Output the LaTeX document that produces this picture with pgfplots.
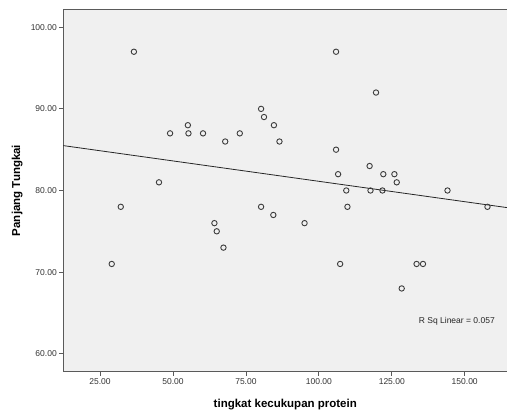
\documentclass[border=0pt]{standalone}
\usepackage{pgfplots}
\pgfplotsset{compat=1.18}
\usepackage{fontspec}
\setmainfont{Liberation Sans}
\definecolor{bgc}{HTML}{F0F0F0}
\definecolor{axc}{HTML}{5A5A5A}
\definecolor{mkc}{HTML}{3C3C3C}
\begin{document}
\begin{tikzpicture}[x=1pt,y=1pt]
\useasboundingbox (0,0) rectangle (507,414);
\begin{axis}[
  at={(63.3pt,42.3pt)}, anchor=south west,
  scale only axis, width=444pt, height=362.4pt,
  xmin=12.4, xmax=164.6, ymin=57.8, ymax=102.2,
  axis background/.style={fill=bgc},
  axis line style={axc, line width=1pt},
  xtick={25,50,75,100,125,150},
  ytick={60,70,80,90,100},
  tick align=outside, tick pos=left,
  major tick length=4pt,
  tick style={axc, line width=0.8pt},
  /pgf/number format/assume math mode=true,
  xticklabel={\pgfmathprintnumber[fixed,fixed zerofill,precision=2]{\tick}},
  yticklabel={\pgfmathprintnumber[fixed,fixed zerofill,precision=2]{\tick}},
  ticklabel style={font=\fontsize{8.5}{10}\selectfont, text=black!80},
  xticklabel style={yshift=1pt},
  yticklabel style={xshift=1pt},
  xlabel={\textbf{tingkat kecukupan protein}},
  ylabel={\textbf{Panjang Tungkai}},
  label style={font=\fontsize{11.5}{13}\selectfont},
  xlabel style={at={(axis description cs:0.5,0)}, anchor=north, yshift=-24pt},
  ylabel style={at={(axis description cs:0,0.5)}, anchor=center, yshift=46pt},
  clip=false,
]
\addplot[only marks, mark=o, mark size=2.7pt, mark options={draw=mkc, line width=0.9pt}] coordinates {
(36.6,97) (49.0,87) (55.1,88) (55.3,87) (60.3,87) (67.9,86) (72.9,87) (45.2,81)
(80.2,90) (81.2,89) (84.6,88) (86.5,86) (105.9,97) (119.6,92) (105.9,85) (117.4,83)
(106.6,82) (122.1,82) (125.9,82) (126.7,81) (109.4,80) (117.7,80) (121.8,80) (144.1,80)
(29.0,71) (32.1,78) (64.2,76) (65.0,75) (67.3,73) (80.2,78) (84.4,77) (95.1,76)
(109.8,78) (157.8,78) (107.3,71) (133.5,71) (135.7,71) (128.4,68)
};
\addplot[black!85, line width=0.8pt] coordinates {(12.4,85.5) (164.6,77.9)};
\node[font=\fontsize{8.5}{10}\selectfont, text=black!85] at (axis cs:147.3,64.0) {R Sq Linear = 0.057};
\end{axis}
\end{tikzpicture}
\end{document}
